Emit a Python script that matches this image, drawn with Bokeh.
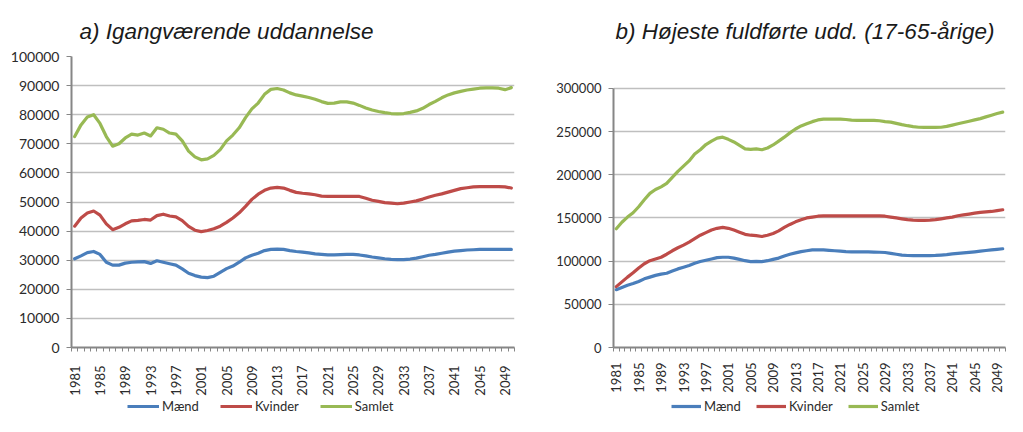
from math import pi
from bokeh.plotting import figure
from bokeh.layouts import row, column
from bokeh.models import FixedTicker, BasicTickFormatter, Legend, LegendItem, Range1d
from bokeh.embed import file_html
from bokeh.resources import INLINE

years = list(range(1981, 2051))
tick_years = list(range(1981, 2050, 4))

series_names = ["Mænd", "Kvinder", "Samlet"]
series_colors = ["#4A7EBB", "#BE4B48", "#98B954"]

title_a = "a) Igangværende  uddannelse"
title_b = "b) Højeste fuldførte udd. (17-65-årige)"

a_maend = [30500, 31500, 32600, 33000, 32000, 29300, 28300, 28300, 29000, 29300,
           29400, 29500, 28900, 29800, 29300, 28800, 28300, 27000, 25500, 24700,
           24200, 24000, 24500, 25800, 27100, 28000, 29300, 30800, 31700, 32400,
           33300, 33700, 33800, 33700, 33300, 33000, 32800, 32500, 32200, 32000,
           31800, 31800, 31900, 32000, 32000, 31800, 31500, 31100, 30800, 30500,
           30300, 30200, 30200, 30400, 30700, 31200, 31700, 32000, 32400, 32800,
           33100, 33300, 33500, 33600, 33700, 33700, 33700, 33700, 33700, 33700]
a_kvinder = [41700, 44500, 46200, 46900, 45500, 42500, 40500, 41300, 42500, 43500,
             43700, 44000, 43800, 45300, 45800, 45200, 44900, 43600, 41600, 40300,
             39800, 40200, 40800, 41700, 43000, 44500, 46300, 48500, 50900, 52700,
             54000, 54800, 55000, 54800, 54000, 53300, 53000, 52800, 52500, 52000,
             51900, 51900, 51900, 51900, 51900, 51900, 51300, 50600, 50200, 49800,
             49600, 49400, 49600, 50000, 50400, 51000, 51700, 52300, 52800, 53400,
             54000, 54600, 54900, 55200, 55300, 55300, 55300, 55300, 55200, 54800]
a_samlet = [72500, 76500, 79200, 80000, 77000, 72500, 69200, 70000, 72000, 73300,
            73000, 73700, 72700, 75500, 75000, 73700, 73300, 71000, 67500, 65500,
            64500, 64800, 66000, 68000, 71000, 73000, 75500, 79000, 82000, 84000,
            87000, 88700, 89000, 88500, 87500, 86800, 86400, 85900, 85300, 84500,
            83900, 84000, 84400, 84400, 84000, 83200, 82300, 81600, 81100, 80700,
            80400, 80300, 80400, 80800, 81300, 82200, 83500, 84600, 85800, 86800,
            87500, 88000, 88500, 88800, 89100, 89200, 89200, 89100, 88600, 89300]

b_maend = [67000, 69500, 72000, 74000, 76500, 79500, 81500, 83500, 85000, 86000,
           88500, 91000, 93000, 95000, 97500, 99500, 101000, 102500, 104000, 104500,
           104500, 103500, 102000, 100500, 99500, 99800, 99500, 100500, 102000, 103500,
           106000, 108000, 109500, 111000, 112000, 113000, 113200, 113000, 112500, 112000,
           111500, 111000, 110800, 110800, 110800, 110800, 110500, 110300, 110000, 109000,
           108000, 107000, 106500, 106400, 106300, 106300, 106400, 106600, 107000, 107500,
           108300, 109000, 109600, 110200, 110800, 111500, 112300, 113000, 113700, 114300]
b_kvinder = [70500, 76000, 81500, 86500, 92000, 97000, 100500, 102500, 104500, 108000,
             112000, 115500, 118500, 122000, 126000, 130000, 133000, 136000, 138000, 139000,
             138000, 136000, 133500, 131000, 130000, 129500, 128500, 130000, 132000, 135000,
             139000, 142500, 145500, 148000, 150000, 151000, 152000, 152500, 152500, 152500,
             152500, 152500, 152500, 152500, 152500, 152500, 152500, 152500, 152000, 151000,
             150000, 149000, 148000, 147500, 147200, 147200, 147500, 148000, 149000, 150000,
             151000, 152500, 153500, 154500, 155500, 156500, 157000, 157500, 158500, 159500]
b_samlet = [137500, 145000, 151000, 156000, 163000, 171000, 178500, 183000, 186000, 190000,
            197000, 204000, 210000, 216000, 224000, 229000, 235000, 239000, 242500, 243500,
            241000, 238000, 234000, 230000, 229500, 230000, 229000, 231000, 234500, 239000,
            243500, 248500, 253000, 256500, 259000, 261500, 263500, 264500, 264500, 264500,
            264500, 264000, 263300, 263000, 263000, 263000, 263000, 262500, 261500, 261000,
            259500, 258000, 256800, 255800, 255000, 254800, 254800, 254800, 255000, 256000,
            257500, 259000, 260500, 262000, 263500, 265000, 267000, 269000, 271000, 272500]

a_yticks = list(range(0, 100001, 10000))
b_yticks = list(range(0, 300001, 50000))

AXIS_COLOR = "#868686"
GRID_COLOR = "#BFBFBF"
TEXT_COLOR = "#2b2b2b"
TICK_FONT = "Lato"

CHART_H = 398
LEGEND_H = 18
BORDER_TOP = 56
FRAME_H = 292      # rows align frames, both charts share frame top/bottom
B_TOP_GAP = 32     # right chart's 300000 line sits this far below the frame top


def make_chart(title, series, yticks, y_end, width, border_left, border_right,
               title_offset, y_font_size, x_standoff):
    p = figure(width=width, height=CHART_H, output_backend="svg", toolbar_location=None,
               x_range=Range1d(1980.5, 2050.5), y_range=Range1d(yticks[0], y_end),
               min_border_left=border_left, min_border_right=border_right,
               min_border_top=BORDER_TOP,
               min_border_bottom=CHART_H - BORDER_TOP - FRAME_H)
    p.outline_line_color = None
    p.background_fill_color = "white"
    p.border_fill_color = "white"

    p.title.text = title
    p.title.text_font = "Liberation Sans"
    p.title.text_font_style = "italic"
    p.title.text_font_size = "22.5px"
    p.title.text_color = "#1a1a1a"
    p.title.align = "left"
    p.title.offset = title_offset
    p.title.standoff = 26

    for vals, color in zip(series, series_colors):
        p.line(years, vals, line_color=color, line_width=3.2, line_join="round",
               line_cap="round")

    xa = p.xaxis[0]
    xa.ticker = FixedTicker(ticks=tick_years,
                            minor_ticks=[y - 0.5 for y in range(1981, 2052)])
    xa.major_label_orientation = pi / 2
    xa.major_tick_line_color = None
    xa.major_tick_out = 4
    xa.major_tick_in = 0
    xa.minor_tick_out = 4
    xa.minor_tick_in = 0
    xa.minor_tick_line_color = AXIS_COLOR
    xa.minor_tick_line_width = 1
    xa.axis_line_color = AXIS_COLOR
    xa.axis_line_width = 2
    xa.major_label_text_font = TICK_FONT
    xa.major_label_text_font_size = "13px"
    xa.major_label_text_color = TEXT_COLOR
    xa.major_label_standoff = x_standoff
    p.xgrid.visible = False

    ya = p.yaxis[0]
    ya.ticker = FixedTicker(ticks=yticks, minor_ticks=[])
    ya.formatter = BasicTickFormatter(use_scientific=False)
    ya.bounds = (yticks[0], yticks[-1])
    ya.major_tick_out = 5
    ya.major_tick_in = 0
    ya.major_tick_line_color = AXIS_COLOR
    ya.axis_line_color = AXIS_COLOR
    ya.axis_line_width = 2
    ya.major_label_text_font = TICK_FONT
    ya.major_label_text_font_size = y_font_size
    ya.major_label_text_color = TEXT_COLOR
    ya.major_label_standoff = 7
    p.ygrid.ticker = FixedTicker(ticks=yticks)
    p.ygrid.grid_line_color = GRID_COLOR
    p.ygrid.grid_line_width = 1.5
    return p


def make_legend(series, width, border_left, border_right, legend_x, spacing, glyph_w):
    # the series are drawn again but kept outside the visible range; only the
    # legend entries that refer to them are seen
    lf = figure(width=width, height=LEGEND_H, output_backend="svg", toolbar_location=None,
                x_range=Range1d(1980.5, 2050.5), y_range=Range1d(-2, -1),
                x_axis_location=None, y_axis_location=None,
                min_border_left=border_left, min_border_right=border_right,
                min_border_top=0, min_border_bottom=0)
    lf.outline_line_color = None
    lf.grid.visible = False
    lf.background_fill_color = "white"
    lf.border_fill_color = "white"
    rs = [lf.line(years, vals, line_color=color, line_width=3.2)
          for vals, color in zip(series, series_colors)]
    legend = Legend(items=[LegendItem(label=n, renderers=[r])
                           for n, r in zip(series_names, rs)],
                    orientation="horizontal", location=(legend_x, 2))
    legend.label_text_font = TICK_FONT
    legend.label_text_font_size = "13px"
    legend.label_text_color = TEXT_COLOR
    legend.glyph_width = glyph_w
    legend.glyph_height = 14
    legend.label_height = 14
    legend.label_standoff = 3
    legend.spacing = spacing
    legend.padding = 0
    legend.margin = 0
    legend.border_line_color = None
    legend.background_fill_alpha = 0
    lf.add_layout(legend)
    return lf


a_y_end = a_yticks[-1]
b_y_end = b_yticks[-1] * FRAME_H / (FRAME_H - B_TOP_GAP)

a_series = [a_maend, a_kvinder, a_samlet]
b_series = [b_maend, b_kvinder, b_samlet]

pa = make_chart(title_a, a_series, a_yticks, a_y_end, width=520, border_left=71,
                border_right=6, title_offset=8, y_font_size="14px", x_standoff=14)
pb = make_chart(title_b, b_series, b_yticks, b_y_end, width=487, border_left=93,
                border_right=2, title_offset=2, y_font_size="13px", x_standoff=11)
la = make_legend(a_series, width=520, border_left=71, border_right=6,
                 legend_x=56, spacing=21, glyph_w=32)
lb = make_legend(b_series, width=487, border_left=93, border_right=2,
                 legend_x=58, spacing=15, glyph_w=30)

layout = column(row(pa, pb), row(la, lb))
open("out.html", "w").write(file_html(layout, INLINE))
